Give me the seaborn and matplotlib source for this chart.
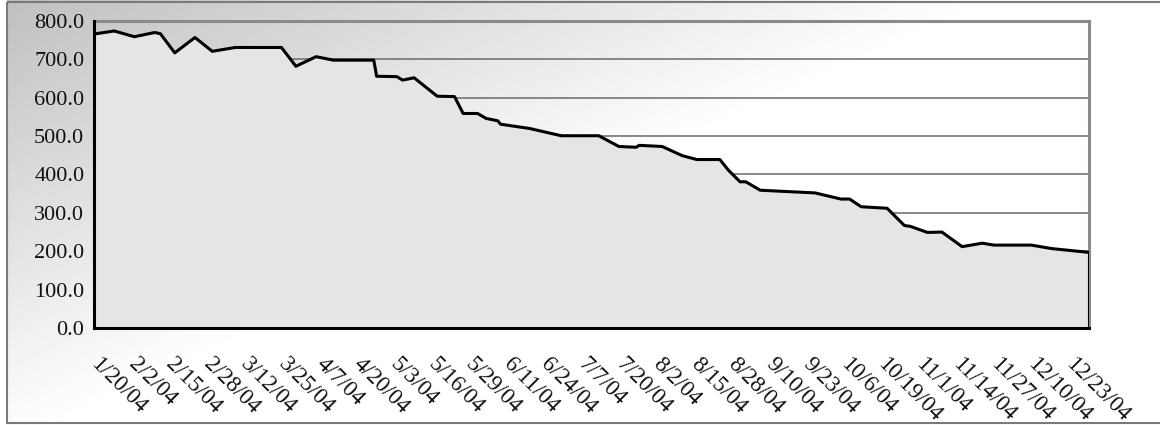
import numpy as np
import pandas as pd
import matplotlib
matplotlib.use("Agg")
import matplotlib.pyplot as plt
import seaborn as sns
from matplotlib.patches import Rectangle

# values
dates = [
    "2004-01-20", "2004-01-27", "2004-02-03", "2004-02-10", "2004-02-12",
    "2004-02-17", "2004-02-24", "2004-03-01", "2004-03-09", "2004-03-25",
    "2004-03-30", "2004-04-06", "2004-04-12", "2004-04-26", "2004-04-27",
    "2004-05-04", "2004-05-06", "2004-05-10", "2004-05-18", "2004-05-24",
    "2004-05-27", "2004-06-01", "2004-06-04", "2004-06-08", "2004-06-09",
    "2004-06-19", "2004-06-30", "2004-07-13", "2004-07-20", "2004-07-26",
    "2004-07-27", "2004-08-04", "2004-08-11", "2004-08-16", "2004-08-24",
    "2004-08-27", "2004-08-31", "2004-09-02", "2004-09-07", "2004-09-26",
    "2004-10-05", "2004-10-08", "2004-10-12", "2004-10-21", "2004-10-27",
    "2004-10-29", "2004-11-04", "2004-11-09", "2004-11-16", "2004-11-23",
    "2004-11-27", "2004-12-10", "2004-12-17", "2004-12-30",
]
values = [
    766, 774, 759, 770, 767,
    717, 757, 721, 731, 731,
    682, 707, 698, 698, 656,
    655, 646, 652, 604, 603,
    559, 559, 546, 540, 531,
    520, 501, 501, 473, 471,
    476, 473, 449, 439, 439,
    411, 381, 381, 359, 352,
    336, 336, 316, 312, 267,
    265, 249, 250, 212, 221,
    216, 216, 207, 197,
]
tick_start = "2004-01-20"
tick_end = "2004-12-23"
tick_step_days = 13
y_ticks = [0, 100, 200, 300, 400, 500, 600, 700, 800]

df = pd.DataFrame({"date": pd.to_datetime(dates), "value": values})

sns.set_style("white")
plt.rcParams["font.family"] = ["Liberation Serif", "DejaVu Serif"]

W, H = 1160, 425
fig = plt.figure(figsize=(W / 100, H / 100), dpi=100)

# background gradient (dark top-left corner fading to white)
bg = fig.add_axes([0, 0, 1, 1], zorder=0)
xx, yy = np.meshgrid(np.arange(W), np.arange(H))
t = np.clip(xx / 1000 + yy / 450, 0, 1)
shade = 0.75 + 0.25 * t
shade[:, :7] = 1.0
bg.imshow(shade, cmap="gray", vmin=0, vmax=1, aspect="auto",
          extent=[0, W, H, 0], interpolation="bilinear")
bg.set_xlim(0, W)
bg.set_ylim(H, 0)
bg.axis("off")
bg.add_patch(Rectangle((7, 2), W + 20, 421, fill=False,
                       edgecolor="#7a7a7a", linewidth=1.5))

ax = fig.add_axes([94 / W, (H - 328) / H, 995 / W, 307 / H], zorder=1)
ax.patch.set_alpha(0)

for yv in y_ticks[1:-1]:
    ax.axhline(yv, color="#6a6a6a", linewidth=1.1, zorder=1)

ax.fill_between(df["date"], df["value"], 0, color="#e5e5e5",
                edgecolor="none", zorder=2)
sns.lineplot(data=df, x="date", y="value", color="black", linewidth=2.2,
             ax=ax, zorder=3)
ax.plot([df["date"].iloc[-1]] * 2, [0, df["value"].iloc[-1]],
        color="black", linewidth=2.2, zorder=3)

ax.set_xlim(df["date"].iloc[0], df["date"].iloc[-1])
ax.set_ylim(0, 800)
ax.set_yticks(y_ticks)
ax.set_yticklabels([f"{v:.1f}" for v in y_ticks])

ticks = pd.date_range(tick_start, tick_end, freq=f"{tick_step_days}D")
ax.set_xticks(ticks)
ax.set_xticklabels([f"{d.month}/{d.day}/{d:%y}" for d in ticks])
ax.set_xlabel("")
ax.set_ylabel("")

ax.tick_params(axis="both", which="major", direction="out", length=5,
               width=1, color="black", labelcolor="#111111")
ax.tick_params(axis="y", pad=2, labelsize=16)
ax.tick_params(axis="x", pad=19, labelsize=16.5)
plt.setp(ax.get_xticklabels(), rotation=-45, ha="left", va="center",
         rotation_mode="anchor")

for side in ["left", "bottom"]:
    ax.spines[side].set_color("black")
    ax.spines[side].set_linewidth(2.2)
    ax.spines[side].set_zorder(4)
for side in ["top", "right"]:
    ax.spines[side].set_color("#8a8a8a")
    ax.spines[side].set_linewidth(2.2)

fig.savefig("out.png", dpi=100)
